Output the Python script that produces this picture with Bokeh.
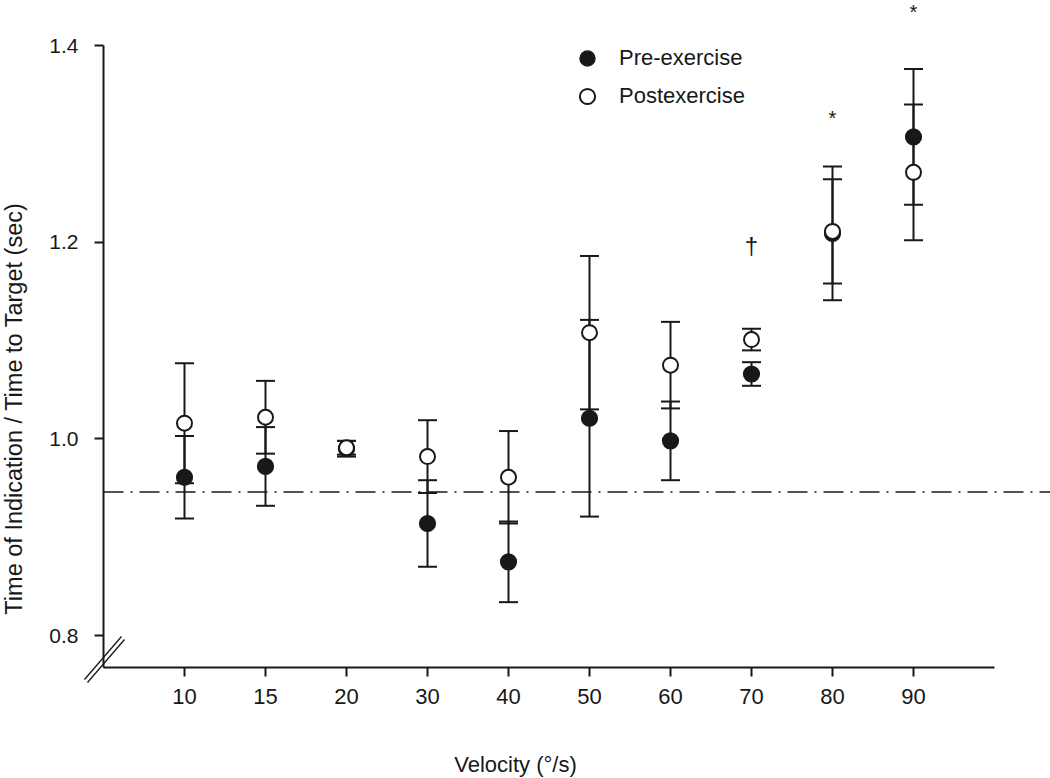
import math
from bokeh.plotting import figure
from bokeh.models import (ColumnDataSource, Range1d, FixedTicker, Label,
                          Legend, LegendItem)
from bokeh.core.properties import value
from bokeh.embed import file_html
from bokeh.resources import INLINE

# ---------------- data ----------------
velocity = [10, 15, 20, 30, 40, 50, 60, 70, 80, 90]
pre_mean = [0.961, 0.972, 0.990, 0.914, 0.875, 1.021, 0.998, 1.066, 1.209, 1.307]
pre_err = [0.042, 0.040, 0.008, 0.044, 0.041, 0.100, 0.040, 0.012, 0.068, 0.069]
post_mean = [1.016, 1.022, 0.991, 0.982, 0.961, 1.108, 1.075, 1.101, 1.211, 1.271]
post_err = [0.061, 0.037, 0.007, 0.037, 0.047, 0.078, 0.044, 0.011, 0.053, 0.069]
reference_level = 0.946
y_ticks = [0.8, 1.0, 1.2, 1.4]
y_tick_labels = ["0.8", "1.0", "1.2", "1.4"]
sig_velocity = [70, 80, 90]
sig_y = [1.197, 1.326, 1.4345]
sig_text = ["\u2020", "*", "*"]

FONT = "Liberation Sans"
INK = "#181818"
W, H = 1050, 778

pos = list(range(len(velocity)))


# pixel <-> data helpers (used only for decorations / text placement)
PX_X0, PX_PER_X = 184.0, 81.0          # x pixel of first category, px per category
PX_Y14, PX_PER_Y = 45.0, 983.5         # y pixel of 1.4, px per unit


def px2x(px):
    return (px - PX_X0) / PX_PER_X


def px2y(py):
    return y_ticks[-1] - (py - PX_Y14) / PX_PER_Y


X_LEFT, X_RIGHT = px2x(0), px2x(W)
Y_TOP, Y_BOT = px2y(0), px2y(H)
AXIS_X = -1.0                 # where the y axis stands
AXIS_Y = px2y(667)            # where the x axis stands


def src(mean, err):
    return ColumnDataSource(dict(
        x=pos, y=mean,
        lo=[m - e for m, e in zip(mean, err)],
        hi=[m + e for m, e in zip(mean, err)],
    ))


pre_src = src(pre_mean, pre_err)
post_src = src(post_mean, post_err)

p = figure(width=W, height=H, output_backend="svg", toolbar_location=None,
           x_range=Range1d(X_LEFT, X_RIGHT), y_range=Range1d(Y_BOT, Y_TOP),
           min_border_left=0, min_border_right=0, min_border_top=0,
           min_border_bottom=0)
p.outline_line_color = None
p.xgrid.visible = False
p.ygrid.visible = False
p.background_fill_color = "white"
p.border_fill_color = "white"

# reference dash-dot line (from the y axis to the right edge)
p.segment(x0=[AXIS_X], y0=[reference_level], x1=[X_RIGHT], y1=[reference_level],
          line_color=INK, line_width=1.3, line_dash="20 7 2 7")

# error bars
for s in (pre_src, post_src):
    p.segment(x0="x", y0="lo", x1="x", y1="hi", source=s, line_color=INK, line_width=2)
    p.scatter(x="x", y="lo", source=s, marker="dash", size=19, line_color=INK, line_width=2)
    p.scatter(x="x", y="hi", source=s, marker="dash", size=19, line_color=INK, line_width=2)

r_pre = p.scatter(x="x", y="y", source=pre_src, size=16, marker="circle",
                  fill_color=INK, line_color=INK, line_width=1.2)
r_post = p.scatter(x="x", y="y", source=post_src, size=15, marker="circle",
                   fill_color="white", line_color=INK, line_width=2)

# significance marks
sig_src = ColumnDataSource(dict(
    x=[velocity.index(v) for v in sig_velocity], y=sig_y, t=sig_text,
    fs=["24px", "20px", "20px"]))
p.text(x="x", y="y", text="t", source=sig_src, text_font=value(FONT),
       text_font_size="fs", text_color=INK, text_align="center",
       text_baseline="middle")

# axes, placed at fixed locations inside the full-canvas frame
xa = p.xaxis[0]
xa.fixed_location = AXIS_Y
xa.ticker = FixedTicker(ticks=pos)
xa.major_label_overrides = {i: str(v) for i, v in zip(pos, velocity)}
xa.bounds = (AXIS_X, len(velocity))
xa.minor_tick_line_color = None
xa.major_tick_in = 0
xa.major_tick_out = 9
xa.major_tick_line_width = 2
xa.axis_line_width = 2
xa.axis_line_color = INK
xa.major_tick_line_color = INK
xa.major_label_text_font = FONT
xa.major_label_text_font_size = "22px"
xa.major_label_text_color = INK
xa.major_label_standoff = 12

ya = p.yaxis[0]
ya.fixed_location = AXIS_X
ya.ticker = FixedTicker(ticks=y_ticks)
ya.major_label_overrides = {t: l for t, l in zip(y_ticks, y_tick_labels)}
ya.bounds = (AXIS_Y, y_ticks[-1])
ya.minor_tick_line_color = None
ya.major_tick_in = 0
ya.major_tick_out = 9
ya.major_tick_line_width = 2
ya.axis_line_width = 2
ya.axis_line_color = INK
ya.major_tick_line_color = INK
ya.major_label_text_font = FONT
ya.major_label_text_font_size = "21px"
ya.major_label_text_color = INK
ya.major_label_standoff = 16

# axis titles
p.add_layout(Label(x=px2x(13.5), y=px2y(408),
                   text="Time of Indication / Time to Target (sec)",
                   angle=math.pi / 2, text_font=FONT, text_font_size="23.5px",
                   text_color=INK, text_align="center", text_baseline="middle"))
p.add_layout(Label(x=px2x(515), y=px2y(764), text="Velocity (\u00b0/s)",
                   text_font=FONT, text_font_size="22px", text_color=INK,
                   text_align="center", text_baseline="middle"))

# axis-break marks at the bottom of the y axis
brk = [(84, 679, 121, 636), (87, 682, 124, 639)]
p.segment(x0=[px2x(b[0]) for b in brk], y0=[px2y(b[1]) for b in brk],
          x1=[px2x(b[2]) for b in brk], y1=[px2y(b[3]) for b in brk],
          line_color=INK, line_width=1.3)

# legend
legend = Legend(items=[LegendItem(label="Pre-exercise", renderers=[r_pre]),
                       LegendItem(label="Postexercise", renderers=[r_post])],
                location=(567, H - 115), orientation="vertical",
                glyph_width=40, glyph_height=38, spacing=0, label_standoff=12,
                padding=0, margin=0, border_line_color=None,
                background_fill_alpha=0,
                label_text_font=FONT, label_text_font_size="22px",
                label_text_color=INK, label_height=38)
p.add_layout(legend)

open("out.html", "w").write(file_html(p, INLINE))
